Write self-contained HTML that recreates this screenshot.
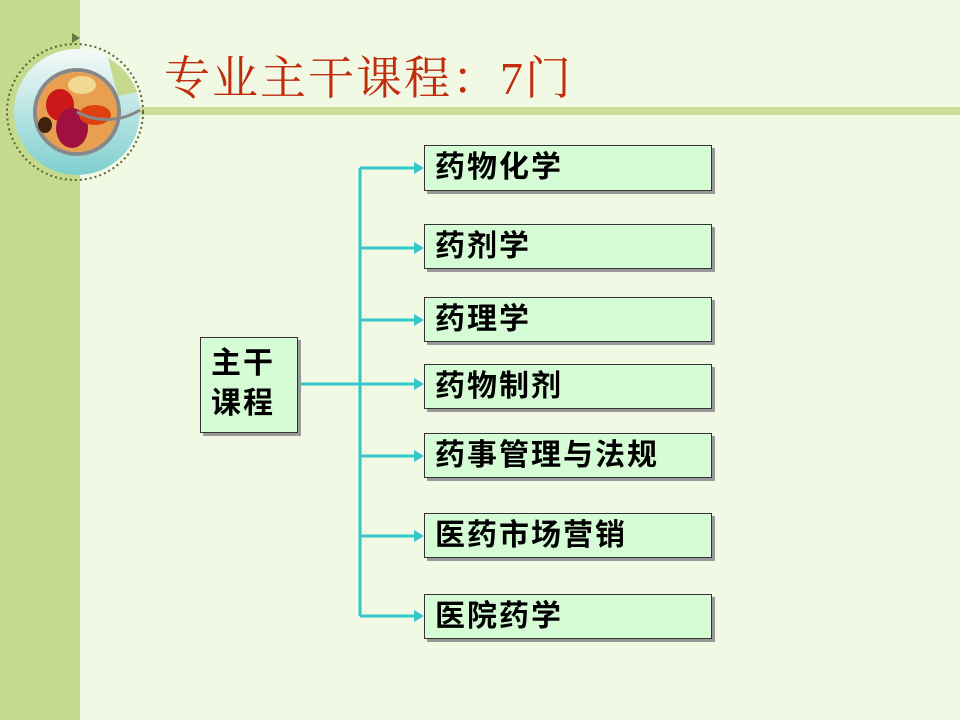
<!DOCTYPE html><html><head><meta charset="utf-8"><style>
body{margin:0;width:960px;height:720px;background:#F1F9E4;position:relative;overflow:hidden;font-family:"Liberation Sans","Noto Sans CJK SC",sans-serif}
.strip{position:absolute;left:0;top:0;width:80px;height:720px;background:#C6DA8E}
.hl{position:absolute;left:140px;top:107px;width:820px;height:8px;background:#CCDE9A}
.title{position:absolute;left:164px;top:42px;font:46px "Liberation Serif","Noto Serif CJK SC",serif;letter-spacing:2px;color:#C02C0C;white-space:nowrap}
.b{position:absolute;background:#D6FCD6;border:1px solid #333;box-shadow:3px 3px 0 #999;font-size:30px;letter-spacing:2px;font-weight:bold;color:#000;box-sizing:border-box;padding-left:10px;line-height:44px;white-space:nowrap}
</style></head><body>
<div class="strip"></div>
<div class="hl"></div>
<svg style="position:absolute;left:0;top:0" width="160" height="190">
<defs><linearGradient id="g" x1="0" y1="0" x2="0" y2="1"><stop offset="0" stop-color="#F4FAF8"/><stop offset="1" stop-color="#7ECFCF"/></linearGradient></defs>
<circle cx="75" cy="112" r="68" fill="none" stroke="#556633" stroke-width="2" stroke-dasharray="2 3"/>
<polygon points="72,33 80,38 72,43" fill="#667744"/>
<circle cx="77" cy="112" r="63" fill="url(#g)"/>
<path d="M108,58 A63,63 0 0 1 137,92 L118,96 Z" fill="#C6DA8E"/>
<circle cx="77" cy="112" r="42" fill="none" stroke="#888" stroke-width="4"/>
<circle cx="77" cy="112" r="40" fill="#E8A050"/>
<ellipse cx="60" cy="105" rx="14" ry="16" fill="#CC1818"/>
<ellipse cx="72" cy="128" rx="16" ry="20" fill="#A01040"/>
<ellipse cx="95" cy="115" rx="16" ry="10" fill="#E04010"/>
<ellipse cx="82" cy="85" rx="14" ry="9" fill="#F2D890"/>
<ellipse cx="45" cy="125" rx="7" ry="8" fill="#402010"/>
<path d="M77,112 A63,63 0 0 0 140,110" fill="none" stroke="#888" stroke-width="3"/>
</svg>
<div class="title">专业主干课程：7门</div>
<svg style="position:absolute;left:0;top:0" width="960" height="720">
<g stroke="#33C8CC" stroke-width="3" fill="none">
<line x1="360" y1="168" x2="360" y2="616"/>
<line x1="298" y1="384" x2="418" y2="384"/>
<line x1="360" y1="168" x2="418" y2="168"/>
<line x1="360" y1="248" x2="418" y2="248"/>
<line x1="360" y1="320" x2="418" y2="320"/>
<line x1="360" y1="456" x2="418" y2="456"/>
<line x1="360" y1="536" x2="418" y2="536"/>
<line x1="360" y1="616" x2="418" y2="616"/>
</g>
<g fill="#33C8CC">
<polygon points="414,162 424,168 414,174"/><polygon points="414,242 424,248 414,254"/>
<polygon points="414,314 424,320 414,326"/><polygon points="414,378 424,384 414,390"/>
<polygon points="414,450 424,456 414,462"/><polygon points="414,530 424,536 414,542"/>
<polygon points="414,610 424,616 414,622"/>
</g></svg>
<div class="b" style="left:200px;top:337px;width:98px;height:96px;line-height:40px;padding-top:6px">主干<br>课程</div>
<div class="b" style="left:424px;top:145px;width:288px;height:46px">药物化学</div>
<div class="b" style="left:424px;top:224px;width:288px;height:45px">药剂学</div>
<div class="b" style="left:424px;top:297px;width:288px;height:45px">药理学</div>
<div class="b" style="left:424px;top:364px;width:288px;height:45px">药物制剂</div>
<div class="b" style="left:424px;top:433px;width:288px;height:45px">药事管理与法规</div>
<div class="b" style="left:424px;top:513px;width:288px;height:45px">医药市场营销</div>
<div class="b" style="left:424px;top:594px;width:288px;height:45px">医院药学</div>
</body></html>
